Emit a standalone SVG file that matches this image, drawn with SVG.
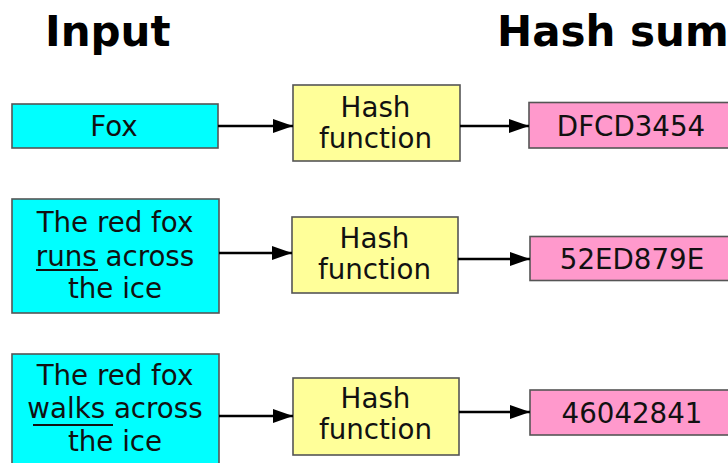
<svg xmlns="http://www.w3.org/2000/svg" width="728" height="463" viewBox="0 0 728 463">
  <defs>
    <marker id="arrow" markerWidth="20" markerHeight="14" refX="20" refY="7" orient="auto" markerUnits="userSpaceOnUse">
      <path d="M0,0 L20,7 L0,14 Z" fill="#000"/>
    </marker>
  </defs>
  <style>
    .title { font-family: "DejaVu Sans", "Liberation Sans", sans-serif; font-weight: bold; font-size: 42px; fill: #000; }
    .lbl { font-family: "DejaVu Sans", "Liberation Sans", sans-serif; font-size: 27.7px; fill: #111; text-anchor: middle; }
    .input rect { fill: #00ffff; stroke: #555; stroke-width: 1.6; }
    .hash rect { fill: #ffff99; stroke: #555; stroke-width: 1.6; }
    .sum rect { fill: #ff99cc; stroke: #555; stroke-width: 1.6; }
    .edge { stroke: #000; stroke-width: 2.5; fill: none; marker-end: url(#arrow); }
    .ul { stroke: #111; stroke-width: 2; }
  </style>
  <rect width="728" height="463" fill="#fff"/>

  <!-- column headings -->
  <text class="title" x="45" y="46">Input</text>
  <text class="title" x="497" y="46">Hash sum</text>

  <!-- row 1 -->
  <g id="input1" class="input">
    <rect x="12" y="104" width="206" height="44"/>
    <text class="lbl" x="114" y="136">Fox</text>
  </g>
  <g id="hash1" class="hash">
    <rect x="293" y="85" width="167" height="76"/>
    <text class="lbl" x="375.5" y="117">Hash</text>
    <text class="lbl" x="375.5" y="148">function</text>
  </g>
  <g id="sum1" class="sum">
    <rect x="529" y="102.5" width="206" height="45.5"/>
    <text class="lbl" x="631" y="136">DFCD3454</text>
  </g>

  <!-- row 2 -->
  <g id="input2" class="input">
    <rect x="12" y="199" width="207" height="114"/>
    <text class="lbl" x="115" y="232">The red fox</text>
    <text class="lbl" x="115" y="266">runs across</text>
    <text class="lbl" x="115" y="298">the ice</text>
    <line class="ul" x1="36" y1="270" x2="98" y2="270"/>
  </g>
  <g id="hash2" class="hash">
    <rect x="292" y="217" width="166" height="76"/>
    <text class="lbl" x="374.5" y="248">Hash</text>
    <text class="lbl" x="374.5" y="279">function</text>
  </g>
  <g id="sum2" class="sum">
    <rect x="530" y="236.5" width="206" height="44">
    </rect>
    <text class="lbl" x="632" y="269">52ED879E</text>
  </g>

  <!-- row 3 -->
  <g id="input3" class="input">
    <rect x="12" y="354" width="207" height="114"/>
    <text class="lbl" x="115" y="385">The red fox</text>
    <text class="lbl" x="115" y="418">walks across</text>
    <text class="lbl" x="115" y="451">the ice</text>
    <line class="ul" x1="33" y1="425" x2="113" y2="425"/>
  </g>
  <g id="hash3" class="hash">
    <rect x="293" y="378" width="166" height="77"/>
    <text class="lbl" x="375.5" y="408">Hash</text>
    <text class="lbl" x="375.5" y="439">function</text>
  </g>
  <g id="sum3" class="sum">
    <rect x="530" y="390" width="206" height="45"/>
    <text class="lbl" x="632" y="422.5">46042841</text>
  </g>

  <!-- connectors -->
  <g id="connectors">
    <line class="edge" x1="218" y1="126" x2="293" y2="126"/>
    <line class="edge" x1="460" y1="126" x2="529" y2="126"/>
    <line class="edge" x1="219" y1="253" x2="292" y2="253"/>
    <line class="edge" x1="458" y1="259" x2="530" y2="259"/>
    <line class="edge" x1="219" y1="416" x2="293" y2="416"/>
    <line class="edge" x1="459" y1="412" x2="530" y2="412"/>
  </g>
</svg>
